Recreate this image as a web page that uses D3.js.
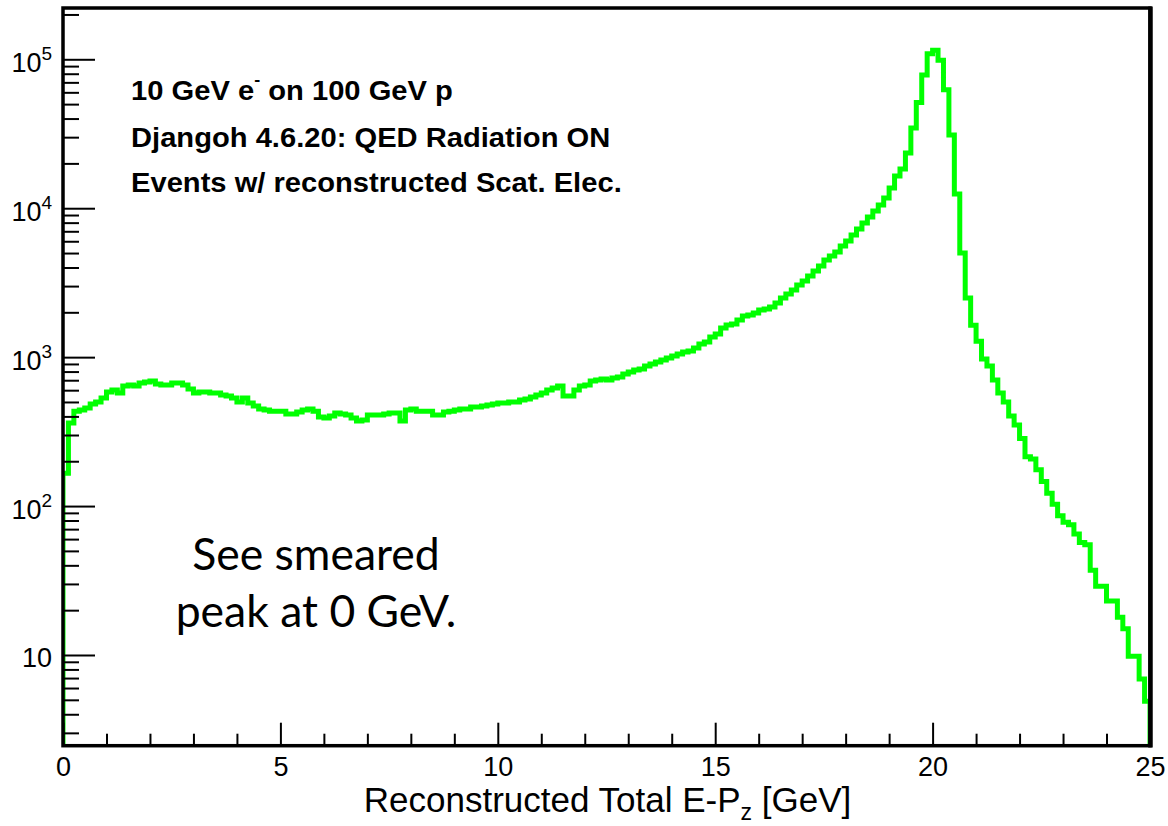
<!DOCTYPE html>
<html><head><meta charset="utf-8">
<script src="https://cdn.jsdelivr.net/npm/d3@7"></script>
<style>body{margin:0;background:#fff}svg{display:block}</style>
</head><body>
<svg id="chart" width="1168" height="826"></svg>
<script>
// ---------------- data ----------------
const xRange = [0, 25];          // histogram range (GeV)
const counts = [
  166, 361, 434, 441, 455, 484, 499, 531, 583, 601,
  574, 640, 650, 640, 670, 680, 691, 660, 650, 650,
  670, 670, 650, 611, 574, 583, 583, 574, 574, 557,
  548, 531, 499, 531, 492, 469, 448, 441, 434, 434,
  434, 415, 415, 428, 441, 448, 434, 396, 390, 402,
  421, 415, 408, 390, 372, 378, 408, 408, 408, 415,
  421, 421, 372, 441, 448, 434, 434, 434, 408, 408,
  428, 434, 441, 448, 448, 462, 462, 469, 477, 484,
  492, 492, 499, 499, 515, 523, 540, 557, 574, 601,
  620, 640, 548, 548, 601, 640, 650, 691, 702, 713,
  702, 724, 735, 770, 794, 819, 832, 871, 899, 927,
  956, 986, 1017, 1049, 1082, 1099, 1151, 1224, 1263, 1365,
  1429, 1568, 1643, 1669, 1775, 1888, 1917, 1978, 2072, 2104,
  2171, 2309, 2495, 2654, 2823, 3050, 3244, 3505, 3787, 4091,
  4488, 4775, 5080, 5574, 6023, 6607, 7250, 7955, 8730, 9580,
  10510, 11710, 13670, 16450, 18320, 23500, 34600, 51300, 78500, 109000,
  115000, 98400, 62400, 31000, 12440, 5010, 2500, 1640, 1280, 970,
  871, 701, 574, 499, 402, 350, 284, 214, 207, 175,
  146, 122, 103, 86, 78, 75, 65, 57, 55, 37,
  29, 29, 23, 23, 17.9, 15, 9.8, 9.8, 6.9, 4.9
];
const xMajorTicks = [0, 5, 10, 15, 20, 25];
const xTickLabels = ["0", "5", "10", "15", "20", "25"];
const xMinorTicks = [1, 2, 3, 4, 6, 7, 8, 9, 11, 12, 13, 14, 16, 17, 18, 19, 21, 22, 23, 24];
const yDomain = [2.46, 2.21e5];
const yMajorTicks = [10, 100, 1000, 10000, 100000];
const yTickBase = ["10", "10", "10", "10", "10"];
const yTickExp = ["", "2", "3", "4", "5"];
const yMinorMantissas = [2, 3, 4, 5, 6, 7, 8, 9];
const xTitle = ["Reconstructed Total E-P", "z", " [GeV]"];
const infoLines = [
  ["10 GeV e", "-", " on 100 GeV p"],
  ["Djangoh 4.6.20: QED Radiation ON"],
  ["Events w/ reconstructed Scat. Elec."]
];
const noteLines = ["See smeared", "peak at 0 GeV."];

// ---------------- layout ----------------
const svg = d3.select("#chart");
const L = 63, R = 1150, T = 8, B = 745.7;
const x = d3.scaleLinear().domain(xRange).range([L, R]);
const y = d3.scaleLog().domain(yDomain).range([B, T]);
const nb = counts.length;
const bw = (xRange[1] - xRange[0]) / nb;

// clip
svg.append("defs").append("clipPath").attr("id", "clip")
  .append("rect").attr("x", L).attr("y", T).attr("width", R - L).attr("height", B - T);

// histogram outline
const yc = v => Math.min(B, Math.max(T, y(Math.max(v, 1e-3))));
let d = `M${x(xRange[0])},${B}`;
counts.forEach((v, i) => {
  const lo = x(xRange[0] + i * bw), hi = x(xRange[0] + (i + 1) * bw);
  d += `L${lo},${yc(v)}L${hi},${yc(v)}`;
});
d += `L${x(xRange[1])},${B}`;
svg.append("path").attr("d", d).attr("clip-path", "url(#clip)")
  .attr("fill", "none").attr("stroke", "#00ff00").attr("stroke-width", 5)
  .attr("stroke-linejoin", "miter").attr("stroke-linecap", "butt");

// axes (ticks pointing inward)
const tickStyle = g => g.selectAll("line").attr("stroke", "#000").attr("stroke-width", 2);
const gx = svg.append("g").attr("transform", `translate(0,${B})`);
gx.call(d3.axisBottom(x).tickValues(xMinorTicks).tickSize(-12).tickFormat(""))
  .call(g => g.select(".domain").remove()).call(tickStyle);
const gx2 = svg.append("g").attr("transform", `translate(0,${B})`);
gx2.call(d3.axisBottom(x).tickValues(xMajorTicks).tickSize(-23).tickPadding(0)
    .tickFormat((v, i) => xTickLabels[i]))
  .call(g => g.select(".domain").remove()).call(tickStyle);
gx2.selectAll("text").attr("y", 30).attr("dy", 0)
  .attr("font-family", "Liberation Sans, Arial, sans-serif").attr("font-size", 27).attr("fill", "#000");

const yMinor = [];
for (let e = 0; e <= 5; e++) yMinorMantissas.forEach(m => {
  const v = m * Math.pow(10, e);
  if (v > yDomain[0] && v < yDomain[1]) yMinor.push(v);
});
const gy = svg.append("g").attr("transform", `translate(${L},0)`);
gy.call(d3.axisLeft(y).tickValues(yMinor).tickSize(-16).tickFormat(""))
  .call(g => g.select(".domain").remove()).call(tickStyle);
const gy2 = svg.append("g").attr("transform", `translate(${L},0)`);
gy2.call(d3.axisLeft(y).tickValues(yMajorTicks).tickSize(-32).tickFormat(""))
  .call(g => g.select(".domain").remove()).call(tickStyle);
gy2.selectAll(".tick").each(function (v, i) {
  const t = d3.select(this).append("text")
    .attr("x", -11).attr("y", 12).attr("text-anchor", "end")
    .attr("font-family", "Liberation Sans, Arial, sans-serif").attr("font-size", 27).attr("fill", "#000");
  t.append("tspan").text(yTickBase[i]);
  if (yTickExp[i]) t.append("tspan").attr("font-size", 19).attr("dy", -12).text(yTickExp[i]);
});

// frame
svg.append("rect").attr("x", L).attr("y", T).attr("width", R - L).attr("height", B - T)
  .attr("fill", "none").attr("stroke", "#000").attr("stroke-width", 3.5);
svg.append("line").attr("x1", R + 0.5).attr("x2", R + 0.5).attr("y1", T - 1.5).attr("y2", B + 1.8)
  .attr("stroke", "#000").attr("stroke-width", 4.5);

// x title
const xt = svg.append("text").attr("x", (L + R) / 2 + 1).attr("y", 812).attr("text-anchor", "middle")
  .attr("font-family", "Liberation Sans, Arial, sans-serif").attr("font-size", 35).attr("fill", "#000");
xt.append("tspan").text(xTitle[0]);
xt.append("tspan").attr("font-size", 23).attr("dy", 8).text(xTitle[1]);
xt.append("tspan").attr("dy", -8).text(xTitle[2]);

// info text (slightly wide bold face, as in the reference)
const infoY = [100, 146.5, 192];
infoLines.forEach((parts, i) => {
  const t = svg.append("text").attr("transform", `translate(131,${infoY[i]}) scale(1.06,1)`)
    .attr("font-family", "Liberation Sans, Arial, sans-serif").attr("font-weight", "bold")
    .attr("font-size", 27.5).attr("fill", "#000");
  if (parts.length === 1) t.text(parts[0]);
  else {
    t.append("tspan").text(parts[0]);
    t.append("tspan").attr("font-size", 17).attr("dy", -15).text(parts[1]);
    t.append("tspan").attr("dy", 15).text(parts[2]);
  }
});

// note
const noteY = [570, 627];
noteLines.forEach((s, i) => {
  svg.append("text").attr("x", 316).attr("y", noteY[i]).attr("text-anchor", "middle")
    .attr("font-family", "Lato, 'Open Sans', sans-serif").attr("font-size", 44.5).attr("fill", "#000")
    .text(s);
});
</script>
</body></html>
